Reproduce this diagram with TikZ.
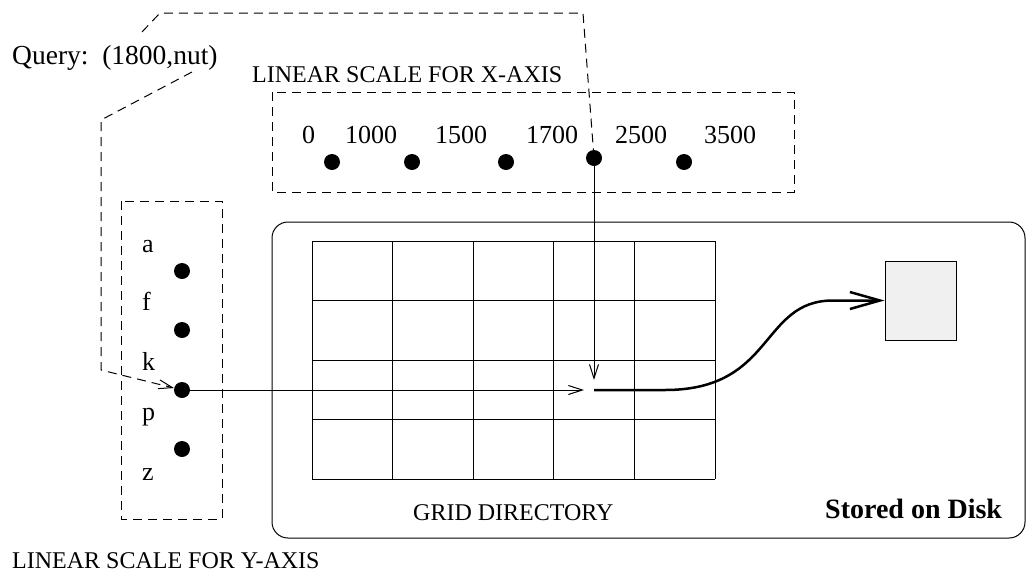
\documentclass[tikz,border=0pt]{standalone}
\usepackage{fontspec}
\setmainfont{Liberation Serif}
\usetikzlibrary{arrows.meta}
\tikzset{
  every picture/.style={x=1pt,y=-1pt},
  thin line/.style={line width=1pt},
  dashline/.style={line width=1pt, dash pattern=on 9pt off 6pt},
  dot/.style={circle, fill=black, inner sep=0pt, minimum size=16pt},
  lbl/.style={anchor=base west, inner sep=0pt, font=\fontsize{24}{28}\selectfont},
  num/.style={anchor=base west, inner sep=0pt, font=\fontsize{26}{30}\selectfont},
  letter/.style={anchor=base west, inner sep=0pt, font=\fontsize{26}{30}\selectfont},
  thintip/.style={-{Straight Barb[length=14pt,width=9pt]}},
  thicktip/.style={-{Straight Barb[length=30pt,width=17pt]}},
}
\begin{document}
\begin{tikzpicture}
\useasboundingbox (0,0) rectangle (1026,574);

% query
\node[anchor=base west, inner sep=0pt, font=\fontsize{27.5}{32}\selectfont] (query) at (12,64) {Query:\ \ (1800,nut)};
\coordinate (q1) at (142,32);
\coordinate (q2) at (192,72);

% x-axis scale
\node[lbl] (xlabel) at (252,82) {LINEAR SCALE FOR X-AXIS};
\draw[dashline] (272,92) rectangle (794,192);
\node[num] (n0) at (302,143) {0};
\node[num] (n1) at (345,143) {1000};
\node[num] (n2) at (435,143) {1500};
\node[num] (n3) at (526,143) {1700};
\node[num] (n4) at (615,143) {2500};
\node[num] (n5) at (704,143) {3500};
\node[dot] (xd1) at (332,162) {};
\node[dot] (xd2) at (412,162) {};
\node[dot] (xd3) at (506,162) {};
\node[dot] (xd4) at (594,158) {};
\node[dot] (xd5) at (684,162) {};

% y-axis scale
\draw[dashline] (121,201) rectangle (222,519);
\node[letter] (la) at (142,252) {a};
\node[letter] (lf) at (142,310) {f};
\node[letter] (lk) at (142,370) {k};
\node[letter] (lp) at (142,420) {p};
\node[letter] (lz) at (142,480) {z};
\node[dot] (yd1) at (182,271) {};
\node[dot] (yd2) at (182,330) {};
\node[dot] (yk) at (182,390) {};
\node[dot] (yd4) at (182,449) {};
\node[lbl] (ylabel) at (12,568) {LINEAR SCALE FOR Y-AXIS};

% disk area
\draw[thin line, rounded corners=16pt] (272,222) rectangle (1025,538);
\foreach \x in {312,392.6,473.2,553.8,634.4,715}
  \draw[thin line] (\x,241) -- (\x,479);
\foreach \y in {241,300.5,360,419.5,479}
  \draw[thin line] (312,\y) -- (715,\y);
\node[lbl] (griddir) at (413,520) {GRID DIRECTORY};
\node[anchor=base west, inner sep=0pt, font=\fontsize{28}{32}\selectfont\bfseries] (disk) at (825,518) {Stored on Disk};
\node[draw, thin line, fill=black!6, minimum width=71pt, minimum height=79pt, inner sep=0pt] (page) at (920.5,300.5) {};

% connectors
\coordinate (cell) at (594,390);
\draw[dashline] (q1) -- (160,13) -- (583,13) -- (xd4);
\draw[dashline, thintip] (q2) -- (101,120) -- (101,370) -- (yk);
\draw[thin line, thintip, shorten >=10pt] (yk) -- (cell);
\draw[thin line, thintip, shorten >=10pt] (xd4) -- (cell);
\draw[line width=2.5pt, thicktip] (cell) -- (665,390) .. controls (775,390) and (760,300.5) .. (833,300.5) -- (page);
\end{tikzpicture}
\end{document}
